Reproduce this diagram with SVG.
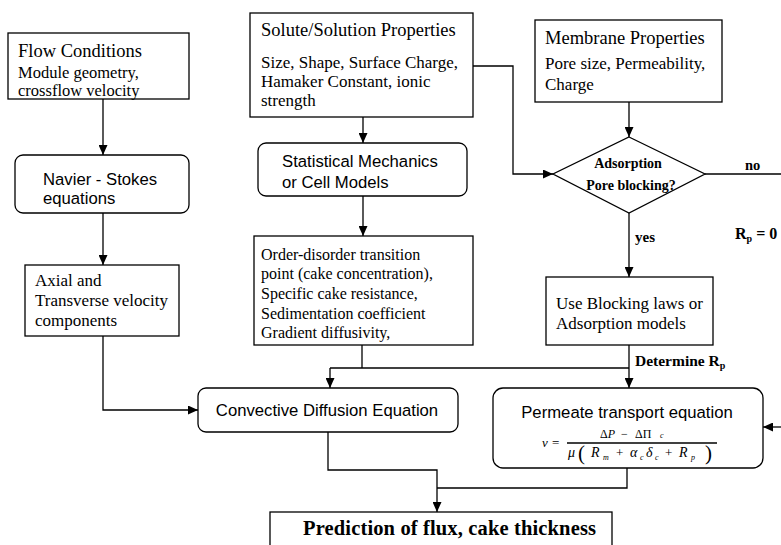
<svg xmlns="http://www.w3.org/2000/svg" width="781" height="545" viewBox="0 0 781 545">
<style>
.box{fill:#fff;stroke:#000;stroke-width:1.3}
.ln{fill:none;stroke:#000;stroke-width:1.3}
.se{font-family:"Liberation Serif","Times New Roman",serif;fill:#000}
.t{font-size:18.5px}
.b{font-size:17px}
.o{font-size:16px}
.sa{font-family:"Liberation Sans",Arial,sans-serif;font-size:16.7px;fill:#000}
.bd{font-family:"Liberation Serif","Times New Roman",serif;font-weight:bold;fill:#000}
.it{font-family:"Liberation Serif","Times New Roman",serif;font-style:italic;fill:#000}
</style>
<defs>
<marker id="ah" markerUnits="userSpaceOnUse" markerWidth="10" markerHeight="9" refX="10" refY="4.5" orient="auto">
<path d="M0,0 L10,4.5 L0,9 z" fill="#000"/>
</marker>
</defs>
<g id="connectors">
<path class="ln" d="M103,99 V155" marker-end="url(#ah)"/>
<path class="ln" d="M103,213 V265" marker-end="url(#ah)"/>
<path class="ln" d="M103,336 V410 H198" marker-end="url(#ah)"/>
<path class="ln" d="M363,117 V143" marker-end="url(#ah)"/>
<path class="ln" d="M363,196 V236" marker-end="url(#ah)"/>
<path class="ln" d="M362,345 V368"/>
<path class="ln" d="M330,368 H629"/>
<path class="ln" d="M330,368 V388" marker-end="url(#ah)"/>
<path class="ln" d="M473,66 H513 V174 H553" marker-end="url(#ah)"/>
<path class="ln" d="M629,102 V137" marker-end="url(#ah)"/>
<path class="ln" d="M705,174 H781"/>
<path class="ln" d="M629,213 V277" marker-end="url(#ah)"/>
<path class="ln" d="M629,345 V388" marker-end="url(#ah)"/>
<path class="ln" d="M781,427 H763" marker-end="url(#ah)"/>
<path class="ln" d="M328,432 V470 H437 V512" marker-end="url(#ah)"/>
<path class="ln" d="M627,468 V488 H437"/>
<text class="bd" x="745" y="170" font-size="14.5">no</text>
<text class="bd" x="635" y="242" font-size="15">yes</text>
<text class="bd" x="735" y="239" font-size="16">R<tspan font-size="10" dy="3">p</tspan><tspan dy="-3"> = 0</tspan></text>
<text class="bd" x="635" y="366" font-size="15.5">Determine R<tspan font-size="10" dy="3">p</tspan></text>
</g>
<g id="flow">
<rect class="box" x="8" y="33" width="181" height="66"/>
<text class="se t" x="18" y="57">Flow Conditions</text>
<text class="se" x="18" y="78" font-size="16.5">Module geometry,</text>
<text class="se" x="18" y="96" font-size="16.5">crossflow velocity</text>
</g>
<g id="navier">
<rect class="box" x="15" y="155" width="174" height="58" rx="8"/>
<text class="sa" x="43" y="185">Navier - Stokes</text>
<text class="sa" x="43" y="204">equations</text>
</g>
<g id="axial">
<rect class="box" x="25" y="265" width="154" height="71"/>
<text class="se b" x="35" y="286">Axial and</text>
<text class="se b" x="35" y="306">Transverse velocity</text>
<text class="se b" x="35" y="326">components</text>
</g>
<g id="solute">
<rect class="box" x="250" y="13" width="223" height="104"/>
<text class="se t" x="261" y="36">Solute/Solution Properties</text>
<text class="se b" x="261" y="68">Size, Shape, Surface Charge,</text>
<text class="se b" x="261" y="87">Hamaker Constant, ionic</text>
<text class="se b" x="261" y="106">strength</text>
</g>
<g id="statistical">
<rect class="box" x="258" y="143" width="209" height="53" rx="8"/>
<text class="sa" x="282" y="167" font-size="17.5">Statistical Mechanics</text>
<text class="sa" x="282" y="188">or Cell Models</text>
</g>
<g id="order">
<rect class="box" x="254" y="236" width="219" height="109"/>
<text class="se o" x="261" y="260">Order-disorder transition</text>
<text class="se o" x="261" y="279">point (cake concentration),</text>
<text class="se o" x="261" y="299">Specific cake resistance,</text>
<text class="se o" x="261" y="319">Sedimentation coefficient</text>
<text class="se o" x="261" y="338">Gradient diffusivity,</text>
</g>
<g id="membrane">
<rect class="box" x="535" y="20" width="187" height="82"/>
<text class="se t" x="545" y="44">Membrane Properties</text>
<text class="se b" x="545" y="69">Pore size, Permeability,</text>
<text class="se b" x="545" y="90">Charge</text>
</g>
<g id="decision">
<polygon class="box" points="629,137 705,174 629,213 553,174"/>
<text class="bd" x="628" y="168" font-size="14" text-anchor="middle">Adsorption</text>
<text class="bd" x="631" y="190" font-size="14" text-anchor="middle">Pore blocking?</text>
</g>
<g id="blocking">
<rect class="box" x="546" y="277" width="167" height="68"/>
<text class="se b" x="556" y="309">Use Blocking laws or</text>
<text class="se b" x="556" y="329">Adsorption models</text>
</g>
<g id="convective">
<rect class="box" x="198" y="388" width="260" height="44" rx="8"/>
<text class="sa" x="327" y="416" text-anchor="middle">Convective Diffusion Equation</text>
</g>
<g id="permeate">
<rect class="box" x="493" y="388" width="270" height="80" rx="10"/>
<text class="sa" x="627" y="418" text-anchor="middle">Permeate transport equation</text>
<text class="it" x="542" y="447" font-size="13">v</text>
<text class="se" x="552" y="447" font-size="13">=</text>
<text class="se" x="600" y="438" font-size="12">Δ<tspan class="it">P</tspan><tspan x="621">−</tspan><tspan x="635">ΔΠ</tspan><tspan x="660" font-size="8" class="it">c</tspan></text>
<path class="ln" d="M567,443 H717" stroke-width="1"/>
<text class="it" x="568" y="457" font-size="14">μ</text>
<text class="se" x="578" y="460" font-size="21">(</text>
<text class="it" x="591" y="457" font-size="14">R</text>
<text class="it" x="603" y="460" font-size="8">m</text>
<text class="se" x="616" y="457" font-size="13">+</text>
<text class="it" x="630" y="457" font-size="14">α</text>
<text class="it" x="640" y="460" font-size="8">c</text>
<text class="it" x="646" y="457" font-size="14">δ</text>
<text class="it" x="655" y="460" font-size="8">c</text>
<text class="se" x="665" y="457" font-size="13">+</text>
<text class="it" x="679" y="457" font-size="14">R</text>
<text class="it" x="691" y="460" font-size="8">p</text>
<text class="se" x="705" y="460" font-size="21">)</text>
</g>
<g id="prediction">
<rect class="box" x="270" y="512" width="342" height="60"/>
<text class="bd" x="303" y="535" font-size="20.5" textLength="293">Prediction of flux, cake thickness</text>
</g>
</svg>
